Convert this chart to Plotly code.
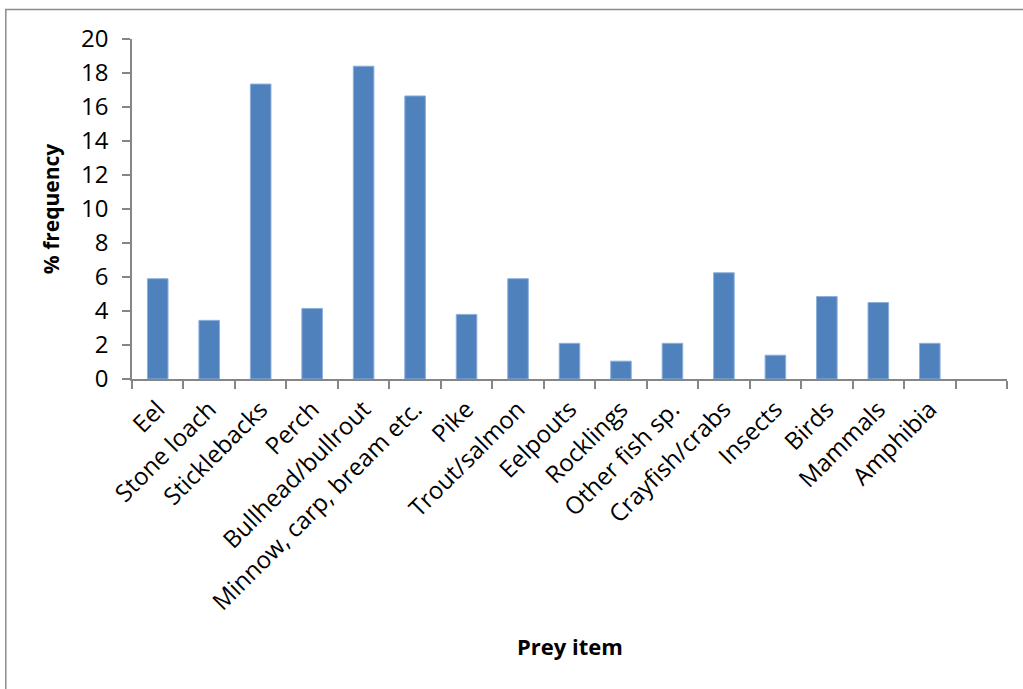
import plotly.graph_objects as go

categories = ["Eel", "Stone loach", "Sticklebacks", "Perch", "Bullhead/bullrout",
              "Minnow, carp, bream etc.", "Pike", "Trout/salmon", "Eelpouts", "Rocklings",
              "Other fish sp.", "Crayfish/crabs", "Insects", "Birds", "Mammals", "Amphibia", " "]
values = [5.9, 3.45, 17.35, 4.15, 18.4, 16.65, 3.8, 5.9, 2.1, 1.05,
          2.1, 6.25, 1.4, 4.85, 4.5, 2.1, None]
y_ticks = [0, 2, 4, 6, 8, 10, 12, 14, 16, 18, 20]

W, H = 1023, 689
L, R, T, B = 131.7, 16.3, 38.5, 310
pw, ph = W - L - R, H - T - B

def px_x(px):
    return (px - L) / pw

def px_y(py):
    return (H - B - py) / ph

FONT = "Open Sans"
TICK = 24
fig = go.Figure()
fig.add_trace(go.Bar(
    x=categories, y=values,
    marker=dict(color="#4F81BD", line=dict(color="#8DB0DC", width=1)),
    width=0.4,
))

fig.update_layout(
    width=W, height=H,
    margin=dict(l=L, r=R, t=T, b=B, autoexpand=False),
    paper_bgcolor="white", plot_bgcolor="white",
    showlegend=False,
    font=dict(family=FONT, size=TICK, color="black"),
    xaxis=dict(
        type="category", categoryorder="array", categoryarray=categories,
        range=[-0.5, len(categories) - 0.5],
        tickson="boundaries", ticks="outside", ticklen=8, tickwidth=1.5, tickcolor="#868686",
        showline=True, linecolor="#868686", linewidth=1.5,
        tickangle=-45, tickfont=dict(family=FONT, size=TICK, color="black"),
        ticklabelstandoff=5,
        showgrid=False, zeroline=False, fixedrange=True,
    ),
    yaxis=dict(
        range=[0, 20], tickvals=y_ticks, ticks="outside", ticklen=8, tickwidth=1.5,
        tickcolor="#868686", showline=True, linecolor="#868686", linewidth=1.5,
        showgrid=False, zeroline=False, ticklabelstandoff=9,
        tickfont=dict(family=FONT, size=TICK, color="black"),
        title=dict(text="<b>% frequency</b>", font=dict(family=FONT, size=21, color="black"), standoff=16),
    ),
    annotations=[dict(
        text="<b>Prey item</b>", xref="paper", yref="paper",
        x=0.5, y=px_y(646), xanchor="center", yanchor="middle", showarrow=False,
        font=dict(family=FONT, size=22, color="black"),
    )],
    shapes=[dict(
        type="rect", xref="paper", yref="paper",
        x0=px_x(5.5), x1=px_x(1040), y0=px_y(9), y1=px_y(710),
        line=dict(color="#8C8C8C", width=1.5), layer="below",
    )],
)

fig.write_html("out.html")
